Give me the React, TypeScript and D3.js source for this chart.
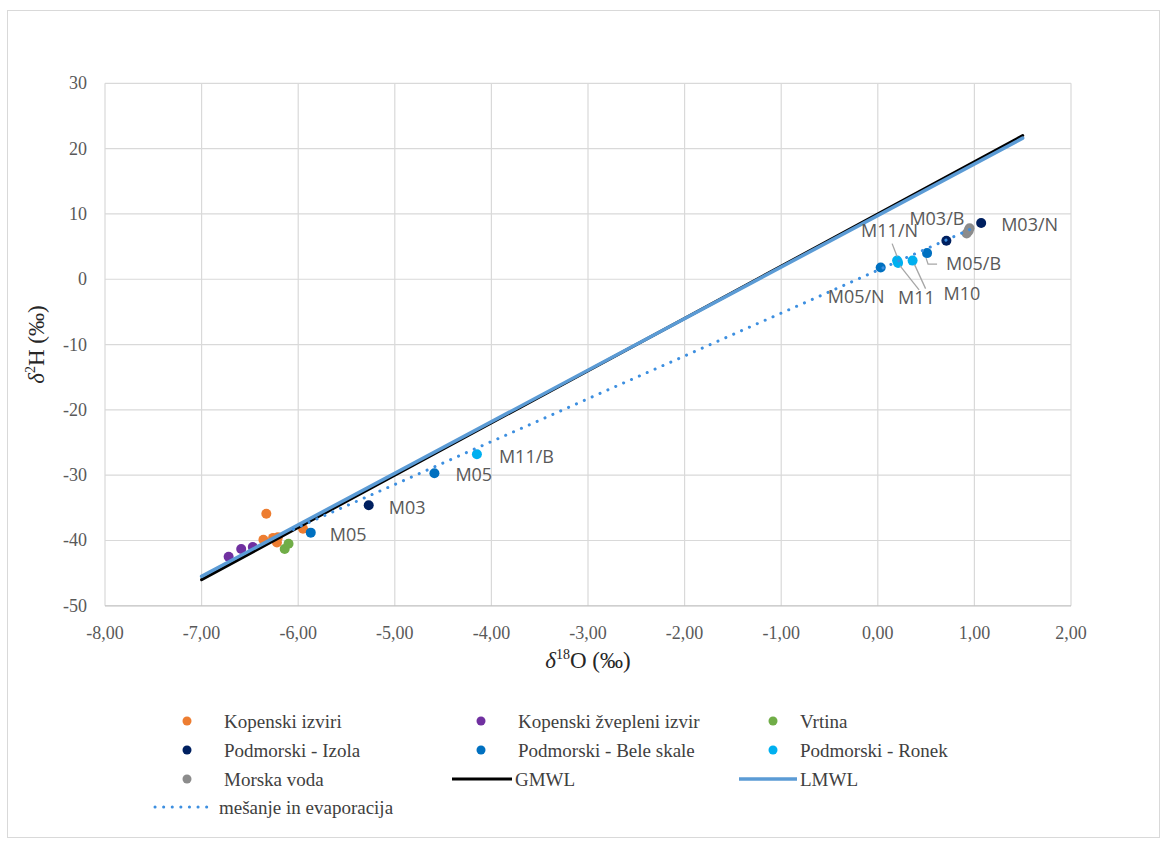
import React from "react";
import * as d3 from "d3";

const W = 1167;
const H = 845;

// ---- tick labels ----
const xTicks = [-8, -7, -6, -5, -4, -3, -2, -1, 0, 1, 2];
const yTicks = [30, 20, 10, 0, -10, -20, -30, -40, -50];

// ---- series (δ18O, δ2H) ----
const kopenskiIzviri: [number, number][] = [
  [-6.33, -35.9], [-6.36, -39.9], [-6.26, -39.6], [-6.21, -39.5], [-6.22, -40.3], [-5.95, -38.2],
];
const kopenskiZvepleni: [number, number][] = [[-6.72, -42.5], [-6.59, -41.3], [-6.47, -41.0]];
const vrtina: [number, number][] = [[-6.14, -41.3], [-6.1, -40.5]];
const izola: [number, number][] = [[-5.27, -34.6], [0.71, 5.9], [1.07, 8.6]];
const izolaLabels = ["M03", "M03/B", "M03/N"];
const beleSkale: [number, number][] = [[-5.87, -38.8], [-4.59, -29.7], [0.03, 1.8], [0.51, 4.0]];
const beleSkaleLabels = ["M05", "M05", "M05/N", "M05/B"];
const ronek: [number, number][] = [[-4.15, -26.8], [0.2, 2.85], [0.21, 2.5], [0.36, 2.85]];
const ronekLabels = ["M11/B", "M11/N", "M11", "M10"];
const morskaVoda: [number, number][] = [[0.92, 7.0], [0.94, 7.4], [0.95, 7.8]];

// lines (end points)
const gmwl: [number, number][] = [[-7, -46], [1.5, 22]];
const lmwl: [number, number][] = [[-7, -45.5], [1.5, 21.6]];
const mesanje: [number, number][] = [[-6.05, -38.3], [0.95, 7.6]];

// ---- styles ----
const C = {
  orange: "#ED7D31",
  purple: "#7030A0",
  green: "#70AD47",
  navy: "#002060",
  blue: "#0070C0",
  lightBlue: "#00B0F0",
  gray: "#8C8C8C",
  lmwl: "#5B9BD5",
  dotted: "#3D8FE0",
};

// label placement relative to point pixel: [dx, dy], optional leader polyline offsets
type LabelPos = { dx: number; dy: number; leader?: [number, number][] };
const labelPos: Record<string, LabelPos[]> = {
  izola: [
    { dx: 20, dy: 2 },
    { dx: -37, dy: -23 },
    { dx: 20, dy: 1 },
  ],
  beleSkale: [
    { dx: 19, dy: 1 },
    { dx: 21, dy: 1 },
    { dx: -53, dy: 29 },
    { dx: 19, dy: 10, leader: [[-1, 5], [1, 11], [10, 11]] },
  ],
  ronek: [
    { dx: 22, dy: 2 },
    { dx: -36, dy: -31, leader: [[-5, -17], [0, -4]] },
    { dx: 0, dy: 34, leader: [[2, 3], [21, 27]] },
    { dx: 31, dy: 32, leader: [[2, 4], [13, 28]] },
  ],
};

const serif = "'Liberation Serif', 'Times New Roman', serif";
const sans = "'Open Sans', 'Liberation Sans', sans-serif";

export default function App() {
  const x = d3.scaleLinear().domain([-8, 2]).range([105, 1071]);
  const y = d3.scaleLinear().domain([-50, 30]).range([605.8, 83.3]);
  const line = d3
    .line<[number, number]>()
    .x((d) => x(d[0]))
    .y((d) => y(d[1]));

  const pointSeries: { data: [number, number][]; color: string }[] = [
    { data: kopenskiIzviri, color: C.orange },
    { data: kopenskiZvepleni, color: C.purple },
    { data: vrtina, color: C.green },
    { data: izola, color: C.navy },
    { data: beleSkale, color: C.blue },
    { data: ronek, color: C.lightBlue },
    { data: morskaVoda, color: C.gray },
  ];

  const labeled: { data: [number, number][]; labels: string[]; key: string }[] = [
    { data: izola, labels: izolaLabels, key: "izola" },
    { data: beleSkale, labels: beleSkaleLabels, key: "beleSkale" },
    { data: ronek, labels: ronekLabels, key: "ronek" },
  ];

  const legendRows = [721, 750, 779, 807];
  const legendCols = [
    { dot: 187, text: 224, lineFrom: 155, lineTo: 213, lineText: 219 },
    { dot: 481, text: 518, lineFrom: 452, lineTo: 512, lineText: 515 },
    { dot: 773, text: 800, lineFrom: 739, lineTo: 797, lineText: 800 },
  ];
  type LegendItem = { label: string; kind: "dot" | "solid" | "dotted"; color: string; width?: number };
  const legendItems: LegendItem[][] = [
    [
      { label: "Kopenski izviri", kind: "dot", color: C.orange },
      { label: "Kopenski žvepleni izvir", kind: "dot", color: C.purple },
      { label: "Vrtina", kind: "dot", color: C.green },
    ],
    [
      { label: "Podmorski - Izola", kind: "dot", color: C.navy },
      { label: "Podmorski - Bele skale", kind: "dot", color: C.blue },
      { label: "Podmorski - Ronek", kind: "dot", color: C.lightBlue },
    ],
    [
      { label: "Morska voda", kind: "dot", color: C.gray },
      { label: "GMWL", kind: "solid", color: "#000", width: 3 },
      { label: "LMWL", kind: "solid", color: C.lmwl, width: 3.5 },
    ],
    [{ label: "mešanje in evaporacija", kind: "dotted", color: C.dotted }],
  ];

  return (
    <svg
      width={W}
      height={H}
      style={{ position: "absolute", left: 0, top: 0, background: "#fff" }}
    >
      <rect x={0} y={0} width={W} height={H} fill="#fff" />
      <rect x={7.5} y={10.5} width={1152} height={827} fill="none" stroke="#D9D9D9" strokeWidth={1} />

      {/* grid */}
      {xTicks.map((t) => (
        <line key={"gx" + t} x1={x(t)} x2={x(t)} y1={y(30)} y2={y(-50)} stroke="#D9D9D9" strokeWidth={1.2} />
      ))}
      {yTicks.map((t) => (
        <line
          key={"gy" + t}
          x1={x(-8)}
          x2={x(2)}
          y1={y(t)}
          y2={y(t)}
          stroke={t === -50 ? "#BFBFBF" : "#D9D9D9"}
          strokeWidth={1.2}
        />
      ))}

      {/* tick labels */}
      {yTicks.map((t) => (
        <text
          key={"ty" + t}
          x={87}
          y={y(t)}
          textAnchor="end"
          dominantBaseline="central"
          fontFamily={serif}
          fontSize={18}
          fill="#595959"
        >
          {String(t)}
        </text>
      ))}
      {xTicks.map((t) => (
        <text
          key={"tx" + t}
          x={x(t)}
          y={633}
          textAnchor="middle"
          dominantBaseline="central"
          fontFamily={serif}
          fontSize={18}
          fill="#595959"
        >
          {d3.format(".2f")(t).replace(".", ",").replace("−", "-")}
        </text>
      ))}

      {/* axis titles */}
      <text x={588} y={668} textAnchor="middle" fontFamily={serif} fontSize={23} fill="#262626">
        <tspan fontStyle="italic">δ</tspan>
        <tspan fontSize={14} dy={-9}>18</tspan>
        <tspan dy={9}>O (‰)</tspan>
      </text>
      <text
        transform={`translate(44, ${(y(30) + y(-50)) / 2}) rotate(-90)`}
        textAnchor="middle"
        fontFamily={serif}
        fontSize={23}
        fill="#262626"
      >
        <tspan fontStyle="italic">δ</tspan>
        <tspan fontSize={14} dy={-9}>2</tspan>
        <tspan dy={9}>H (‰)</tspan>
      </text>

      {/* points */}
      {pointSeries.map((s, i) =>
        s.data.map((d, j) => <circle key={`p${i}-${j}`} cx={x(d[0])} cy={y(d[1])} r={5} fill={s.color} />)
      )}

      {/* lines */}
      <path d={line(gmwl) ?? ""} stroke="#000" strokeWidth={3} fill="none" strokeLinecap="round" />
      <path d={line(lmwl) ?? ""} stroke={C.lmwl} strokeWidth={3.5} fill="none" strokeLinecap="round" />
      <path
        d={line(mesanje) ?? ""}
        stroke={C.dotted}
        strokeWidth={3}
        fill="none"
        strokeLinecap="round"
        strokeDasharray="0.1 8.5"
      />

      {/* data labels */}
      {labeled.map((s) =>
        s.data.map((d, j) => {
          const px = x(d[0]);
          const py = y(d[1]);
          const lp = labelPos[s.key][j];
          return (
            <g key={`l-${s.key}-${j}`}>
              {lp.leader && (
                <polyline
                  points={lp.leader.map(([a, b]) => `${px + a},${py + b}`).join(" ")}
                  fill="none"
                  stroke="#A6A6A6"
                  strokeWidth={1.3}
                />
              )}
              <text
                x={px + lp.dx}
                y={py + lp.dy}
                dominantBaseline="central"
                fontFamily={sans}
                fontSize={18}
                fill="#595959"
              >
                {s.labels[j]}
              </text>
            </g>
          );
        })
      )}

      {/* legend */}
      {legendItems.map((row, r) =>
        row.map((it, c) => {
          const col = legendCols[c];
          const yy = legendRows[r];
          if (it.kind === "dot") {
            return (
              <g key={`lg${r}-${c}`}>
                <circle cx={col.dot} cy={yy} r={4.5} fill={it.color} />
                <text x={col.text} y={yy} dominantBaseline="central" fontFamily={serif} fontSize={19} fill="#404040">
                  {it.label}
                </text>
              </g>
            );
          }
          return (
            <g key={`lg${r}-${c}`}>
              <line
                x1={col.lineFrom}
                x2={col.lineTo}
                y1={yy}
                y2={yy}
                stroke={it.color}
                strokeWidth={it.kind === "dotted" ? 3 : it.width}
                strokeLinecap={it.kind === "dotted" ? "round" : "butt"}
                strokeDasharray={it.kind === "dotted" ? "0.1 8.5" : undefined}
              />
              <text x={col.lineText} y={yy} dominantBaseline="central" fontFamily={serif} fontSize={19} fill="#404040">
                {it.label}
              </text>
            </g>
          );
        })
      )}
    </svg>
  );
}
